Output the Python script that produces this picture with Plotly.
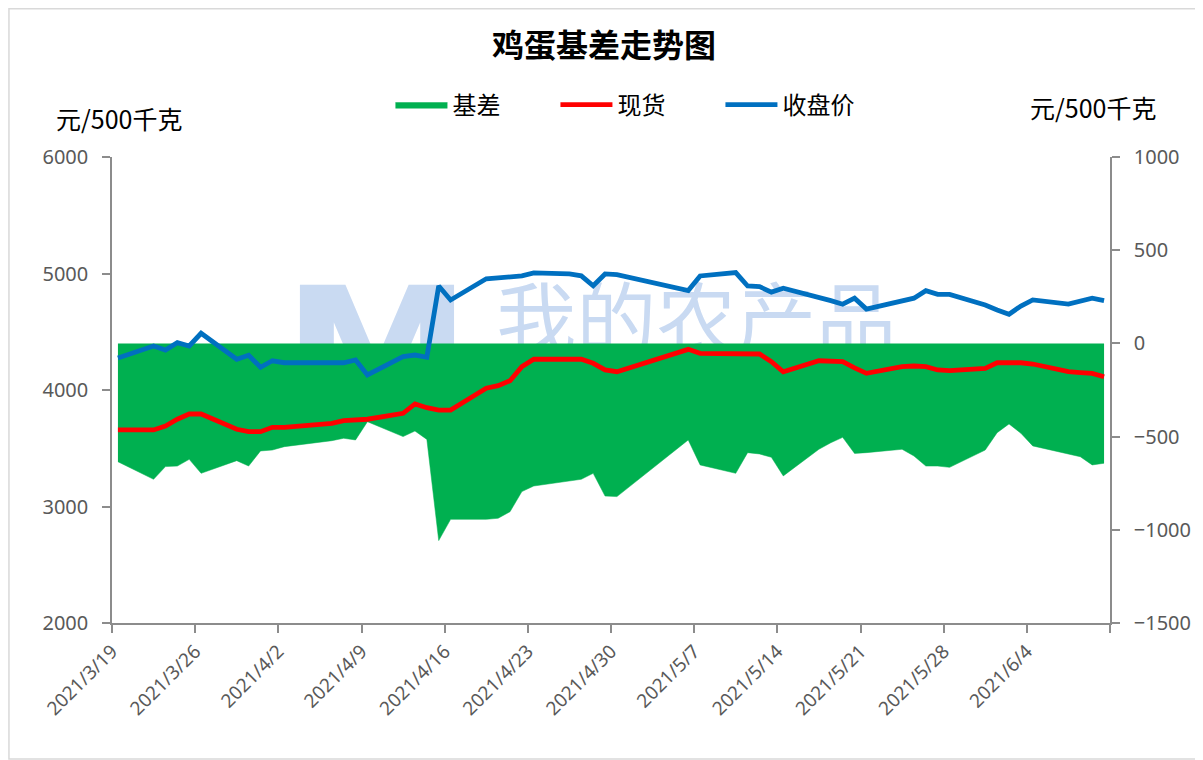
import plotly.graph_objects as go

# ---------------- data ----------------
dates = [
    "2021-03-19", "2021-03-22", "2021-03-23", "2021-03-24", "2021-03-25", "2021-03-26",
    "2021-03-29", "2021-03-30", "2021-03-31", "2021-04-01", "2021-04-02",
    "2021-04-06", "2021-04-07", "2021-04-08", "2021-04-09",
    "2021-04-12", "2021-04-13", "2021-04-14", "2021-04-15", "2021-04-16",
    "2021-04-19", "2021-04-20", "2021-04-21", "2021-04-22", "2021-04-23",
    "2021-04-26", "2021-04-27", "2021-04-28", "2021-04-29", "2021-04-30",
    "2021-05-06", "2021-05-07",
    "2021-05-10", "2021-05-11", "2021-05-12", "2021-05-13", "2021-05-14",
    "2021-05-17", "2021-05-18", "2021-05-19", "2021-05-20", "2021-05-21",
    "2021-05-24", "2021-05-25", "2021-05-26", "2021-05-27", "2021-05-28",
    "2021-05-31", "2021-06-01", "2021-06-02", "2021-06-03", "2021-06-04",
    "2021-06-07", "2021-06-08", "2021-06-09", "2021-06-10",
]

close_price = [
    4275, 4378, 4343, 4406, 4378, 4487,
    4264, 4298, 4195, 4251, 4234,
    4234, 4234, 4258, 4129,
    4286, 4300, 4281, 4893, 4773,
    4955, 4963, 4976, 4979, 5005,
    4996, 4980, 4895, 4996, 4990,
    4853, 4979,
    5008, 4893, 4887, 4840, 4873,
    4801, 4767, 4736, 4788, 4695,
    4758, 4788, 4853, 4821, 4821,
    4730, 4687, 4650, 4721, 4773,
    4738, 4758, 4788, 4767,
]

spot_price = [
    3657, 3657, 3691, 3749, 3794, 3794,
    3663, 3642, 3642, 3680, 3680,
    3714, 3737, 3742, 3749,
    3800, 3880, 3848, 3828, 3828,
    4015, 4037, 4080, 4200, 4264,
    4264, 4264, 4229, 4172, 4157,
    4349, 4315,
    4309, 4309, 4309, 4243, 4157,
    4251, 4251, 4243, 4190, 4143,
    4200, 4206, 4200, 4172, 4166,
    4186, 4234, 4234, 4234, 4223,
    4157, 4149, 4143, 4114,
]

basis = [
    -635, -729, -661, -658, -622, -697,
    -629, -658, -577, -572, -554,
    -522, -509, -518, -420,
    -500, -470, -515, -1058, -944,
    -944, -938, -903, -795, -765,
    -736, -729, -697, -819, -822,
    -518, -652,
    -697, -586, -593, -611, -711,
    -568, -533, -504, -590, -586,
    -568, -604, -658, -658, -665,
    -572, -479, -432, -482, -550,
    -593, -608, -652, -643,
]

tick_dates = ["2021-03-19", "2021-03-26", "2021-04-02", "2021-04-09", "2021-04-16",
              "2021-04-23", "2021-04-30", "2021-05-07", "2021-05-14", "2021-05-21",
              "2021-05-28", "2021-06-04", "2021-06-11"]
tick_labels = ["2021/3/19", "2021/3/26", "2021/4/2", "2021/4/9", "2021/4/16",
               "2021/4/23", "2021/4/30", "2021/5/7", "2021/5/14", "2021/5/21",
               "2021/5/28", "2021/6/4", ""]

title_text = "鸡蛋基差走势图"
unit_text = "元/500千克"
watermark_text = "我的农产品"

GREEN = "#00B050"
RED = "#FF0000"
BLUE = "#0070C0"
AXIS = "#8C8C8C"
TXT = "#595959"
NUMFONT = "Noto Sans, Noto Sans CJK SC, sans-serif"
CJK = "Noto Sans CJK SC, Noto Sans, sans-serif"
DAY_MS = 86400000

# the page body adds an 8px offset; figure is sized so the plot lands on the reference spots
OFF = 8
W, H = 1203 - OFF, 760 - OFF
L, R, T, B = 112 - OFF, 91, 157 - OFF, 137
PW, PH = W - L - R, H - T - B


def px(xp):
    return (xp - OFF - L) / PW


def py(yp):
    return (T + PH - (yp - OFF)) / PH


fig = go.Figure()

fig.add_trace(go.Scatter(
    x=dates, y=basis, name="基差", yaxis="y", mode="lines",
    fill="tozeroy", fillcolor=GREEN, line=dict(color=GREEN, width=0.5),
    xperiod=DAY_MS, xperiodalignment="middle",
))
fig.add_trace(go.Scatter(
    x=dates, y=spot_price, name="现货", yaxis="y2", mode="lines",
    line=dict(color=RED, width=4.8),
    xperiod=DAY_MS, xperiodalignment="middle",
))
fig.add_trace(go.Scatter(
    x=dates, y=close_price, name="收盘价", yaxis="y2", mode="lines",
    line=dict(color=BLUE, width=4.8),
    xperiod=DAY_MS, xperiodalignment="middle",
))

fig.update_layout(
    width=W, height=H,
    margin=dict(l=L, r=R, t=T, b=B),
    paper_bgcolor="white", plot_bgcolor="white",
    font=dict(family=CJK, color="#000000"),
    title=dict(text=title_text, x=(604 - OFF) / W, y=1 - (46 - OFF) / H,
               xanchor="center", yanchor="middle",
               font=dict(family=CJK, size=32, color="#000000", weight="bold")),
    showlegend=True,
    legend=dict(orientation="h", x=px(391), y=py(105),
                xanchor="left", yanchor="middle",
                font=dict(family=CJK, size=24, color="#000000"),
                itemwidth=52, entrywidth=98, entrywidthmode="pixels",
                bgcolor="rgba(0,0,0,0)", traceorder="normal"),
    xaxis=dict(
        type="date", range=["2021-03-19", "2021-06-11"],
        tickmode="array", tickvals=tick_dates, ticktext=tick_labels,
        tickangle=-45, ticks="outside", ticklen=8, tickcolor=AXIS, tickwidth=1.5,
        showline=True, linecolor=AXIS, linewidth=1.5, showgrid=False, zeroline=False,
        tickfont=dict(family=NUMFONT, size=19, color=TXT),
    ),
    yaxis=dict(
        side="right", range=[-1500, 1000], dtick=500, tick0=-1500,
        ticks="outside", ticklen=8, tickcolor=AXIS, tickwidth=1.5,
        showline=True, linecolor=AXIS, linewidth=1.5, showgrid=False, zeroline=False,
        tickfont=dict(family=NUMFONT, size=20, color=TXT), ticklabelstandoff=10,
    ),
    yaxis2=dict(
        side="left", overlaying="y", range=[2000, 6000], dtick=1000, tick0=2000,
        ticks="outside", ticklen=8, tickcolor=AXIS, tickwidth=1.5,
        showline=True, linecolor=AXIS, linewidth=1.5, showgrid=False, zeroline=False,
        tickfont=dict(family=NUMFONT, size=20, color=TXT), ticklabelstandoff=10,
    ),
)

# axis unit captions
fig.add_annotation(text=unit_text, xref="paper", yref="paper",
                   x=px(119), y=py(118), showarrow=False,
                   xanchor="center", yanchor="middle",
                   font=dict(family=CJK, size=25, color="#000000"))
fig.add_annotation(text=unit_text, xref="paper", yref="paper",
                   x=px(1095), y=py(107), showarrow=False,
                   xanchor="center", yanchor="middle",
                   font=dict(family=CJK, size=25, color="#000000"))

# watermark (behind the data)
WM = "#C9DAF2"
fig.add_shape(type="rect", xref="paper", yref="paper", layer="below",
              x0=px(490), x1=px(905), y0=py(368), y1=py(286), line=dict(width=0),
              fillcolor="rgba(0,0,0,0)",
              label=dict(text=watermark_text, textposition="middle center",
                         font=dict(family=CJK, size=80, color=WM)))
fig.add_shape(type="rect", xref="paper", yref="paper", layer="below",
              x0=px(285), x1=px(470), y0=py(423), y1=py(266), line=dict(width=0),
              fillcolor="rgba(0,0,0,0)",
              label=dict(text="M", textposition="middle center",
                         font=dict(family="DejaVu Sans", size=190, color=WM, weight="bold")))

# outer border of the picture
fig.add_shape(type="rect", xref="paper", yref="paper", layer="below",
              x0=px(OFF + 0.75), x1=px(1201), y0=py(759), y1=py(OFF + 0.75),
              line=dict(color="#D9D9D9", width=1.5), fillcolor="rgba(0,0,0,0)")

fig.write_html("out.html")
